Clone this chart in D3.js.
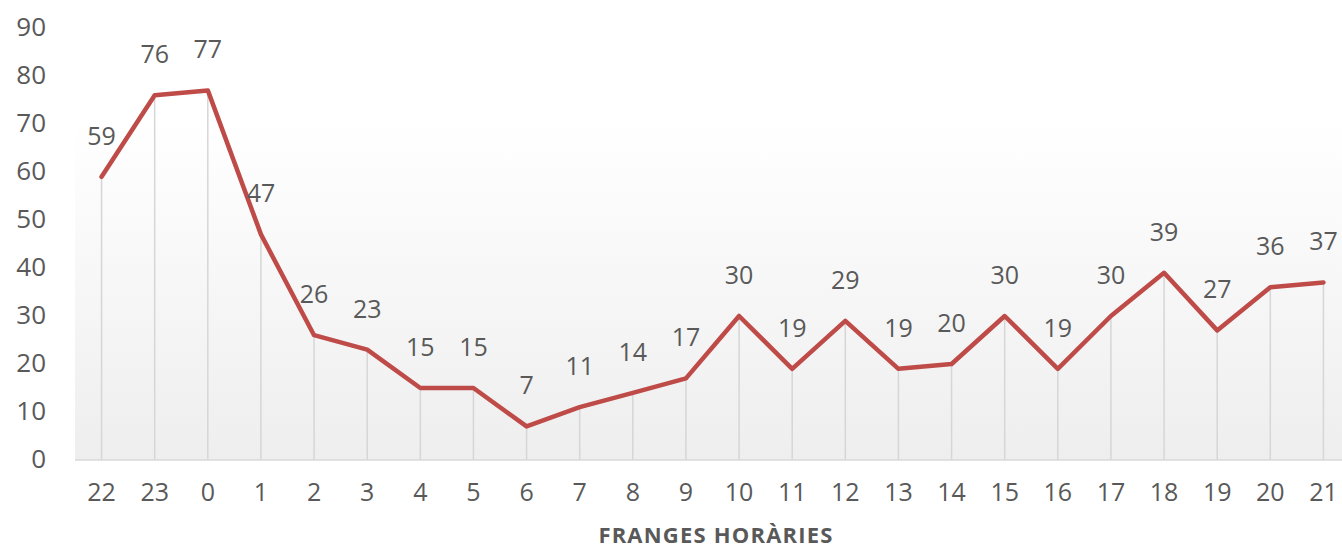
<!DOCTYPE html>
<html>
<head>
<meta charset="utf-8">
<script src="https://cdn.jsdelivr.net/npm/d3@7"></script>
<style>
  body { margin: 0; background: #fff; }
  text { font-family: "Open Sans", sans-serif; fill: #595959; }
</style>
</head>
<body>
<script>
// data
const hours = ["22","23","0","1","2","3","4","5","6","7","8","9","10","11","12","13","14","15","16","17","18","19","20","21"];
const values = [59,76,77,47,26,23,15,15,7,11,14,17,30,19,29,19,20,30,19,30,39,27,36,37];
const yTicks = [0,10,20,30,40,50,60,70,80,90];
const xTitle = "FRANGES HORÀRIES";

const width = 1342;
const height = 549;
const margin = ({top: 28, right: -8, bottom: 89, left: 75});
const fontSize = "25px";

let svg = d3.select('body').append('svg')
    .attr('width', width)
    .attr('height', height);

// gradient for plot area
let defs = svg.append("defs");
let grad = defs.append("linearGradient")
    .attr("id", "bg")
    .attr("x1", 0).attr("y1", 0).attr("x2", 0).attr("y2", 1);
grad.append("stop").attr("offset", "0%").attr("stop-color", "#ffffff");
grad.append("stop").attr("offset", "22%").attr("stop-color", "#ffffff");
grad.append("stop").attr("offset", "100%").attr("stop-color", "#eeeeee");

var xScale = d3.scaleBand()
    .domain(hours)
    .range([margin.left, width - margin.right]);
var yScale = d3.scaleLinear()
    .domain([0, 90])
    .range([height - margin.bottom, margin.top]);

const x = d => xScale(d) + xScale.bandwidth()/2;

// plot background
svg.append("rect")
    .attr("x", margin.left)
    .attr("y", margin.top)
    .attr("width", width - margin.right - margin.left)
    .attr("height", yScale(0) - margin.top)
    .attr("fill", "url(#bg)");

// drop lines
svg.append("g").selectAll("line")
    .data(values)
    .enter()
    .append("line")
    .attr("x1", (d, i) => x(hours[i]))
    .attr("x2", (d, i) => x(hours[i]))
    .attr("y1", d => yScale(d))
    .attr("y2", yScale(0))
    .attr("stroke", "#d6d6d6")
    .attr("stroke-width", 1.5);

// x axis line
svg.append("line")
    .attr("x1", margin.left)
    .attr("x2", width)
    .attr("y1", yScale(0))
    .attr("y2", yScale(0))
    .attr("stroke", "#d9d9d9")
    .attr("stroke-width", 1.5);

// y axis labels
var yAxis = d3.axisLeft(yScale).tickValues(yTicks).tickSize(0).tickPadding(0);
let gy = svg.append("g")
    .attr("transform", "translate(46,-1)")
    .call(yAxis);
gy.select(".domain").remove();
gy.selectAll("text")
    .style("font-size", "26px")
    .style("fill", "#595959")
    .style("font-family", "Open Sans, sans-serif");

// x axis labels
var xAxis = d3.axisBottom(xScale).tickSize(0).tickPadding(0);
let gx = svg.append("g")
    .attr("transform", `translate(0,${yScale(0) + 23})`)
    .call(xAxis);
gx.select(".domain").remove();
gx.selectAll("text")
    .style("font-size", fontSize)
    .style("fill", "#595959")
    .style("font-family", "Open Sans, sans-serif");

// line
var lineFunction = d3.line()
    .x((d, i) => x(hours[i]))
    .y(d => yScale(d));
svg.append("path")
    .datum(values)
    .attr("d", lineFunction)
    .attr("fill", "none")
    .attr("stroke", "#be4b48")
    .attr("stroke-width", 4.5)
    .attr("stroke-linejoin", "round")
    .attr("stroke-linecap", "round");

// data labels
svg.append("g").selectAll("text")
    .data(values)
    .enter()
    .append("text")
    .attr("x", (d, i) => x(hours[i]))
    .attr("y", d => yScale(d) - 32)
    .attr("text-anchor", "middle")
    .style("font-size", fontSize)
    .text(d => d);

// axis title
svg.append("text")
    .attr("x", 716)
    .attr("y", 543)
    .attr("text-anchor", "middle")
    .style("font-size", "22px")
    .style("font-weight", "bold")
    .style("letter-spacing", "1.2px")
    .text(xTitle);
</script>
</body>
</html>
